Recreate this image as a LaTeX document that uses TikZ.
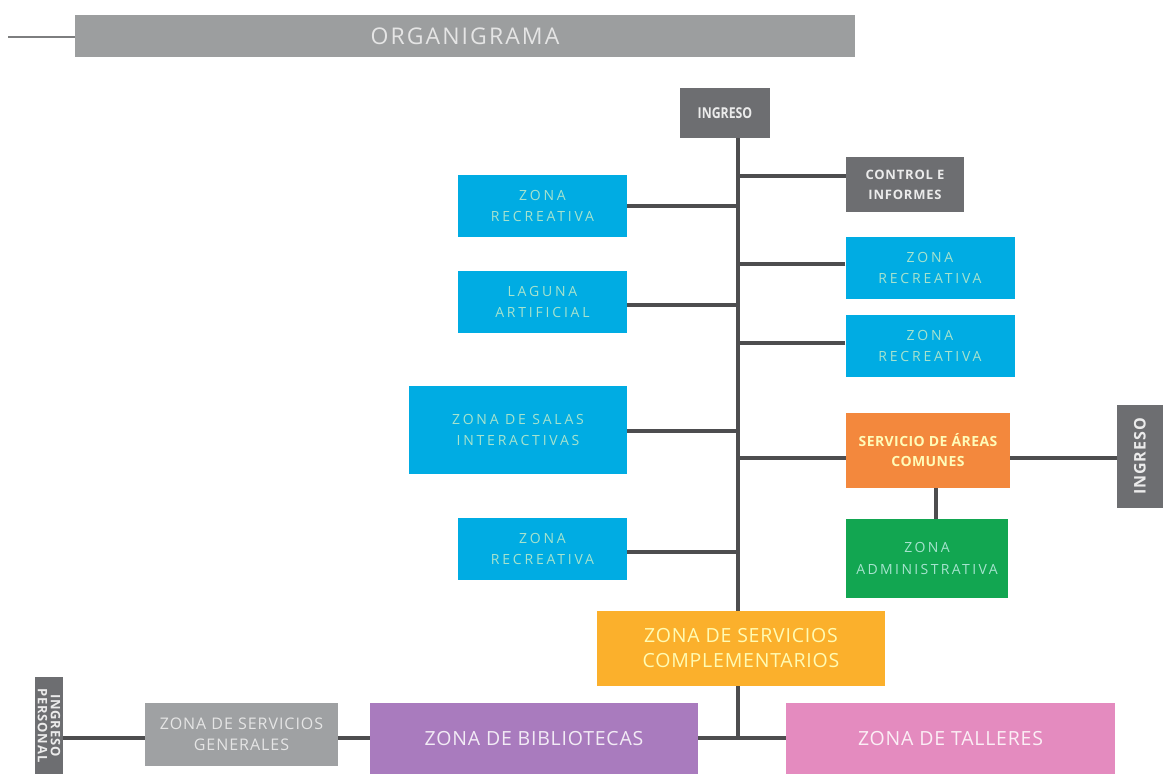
\documentclass[tikz,border=0pt]{standalone}
\usepackage{fontspec}
\setmainfont{Open Sans}
\newfontfamily\condf[FakeStretch=0.82]{Open Sans}
\newcommand\myls[1]{\addfontfeatures{LetterSpace=#1}}
\begin{document}
\begin{tikzpicture}[x=1pt,y=-1pt,
  box/.style={rectangle, inner sep=2pt, align=center},
  bluebox/.style={box, fill=cblue, text=cbluetext, minimum width=169, minimum height=62,
    font=\fontsize{14}{21}\selectfont\myls{20}},
  darkbox/.style={box, fill=cdark, text=white!92!black},
  link/.style={draw=cline, line width=4pt}
]
\definecolor{cblue}{HTML}{00ACE3}
\definecolor{cbluetext}{HTML}{A6E3CE}
\definecolor{cdark}{HTML}{6D6E71}
\definecolor{ctitle}{HTML}{9C9E9F}
\definecolor{corange}{HTML}{F3883D}
\definecolor{cgreen}{HTML}{12A651}
\definecolor{cyellow}{HTML}{FBB02C}
\definecolor{cpurple}{HTML}{A97BBE}
\definecolor{cpink}{HTML}{E48BBF}
\definecolor{cgray}{HTML}{9FA1A3}
\definecolor{cline}{HTML}{4D4D4F}
\useasboundingbox (0,0) rectangle (1163,774);
% main spine coordinate
\coordinate (sp) at (738,738);
% title
\node[rectangle, fill=ctitle, minimum width=780, minimum height=42, inner sep=0pt,
  text=white!90!black, font=\fontsize{23}{24}\selectfont\myls{9}] (title) at (465,36) {ORGANIGRAMA};
\coordinate (tl) at (8,37);
\draw[draw=ctitle!80!black, line width=2.5pt] (tl) -- (tl -| title.west);
% nodes
\node[darkbox, minimum width=90, minimum height=50, font=\condf\bfseries\fontsize{15}{16}\selectfont] (ing) at (725,113) {INGRESO};
\node[darkbox, minimum width=118, minimum height=55, font=\bfseries\fontsize{13}{20}\selectfont\myls{6}] (ctrl) at (905,184.5) {CONTROL E\\INFORMES};
\node[bluebox] (zr1) at (542.5,206) {ZONA\\RECREATIVA};
\node[bluebox] (zr2) at (930,267.5) {ZONA\\RECREATIVA};
\node[bluebox] (lag) at (542.5,302) {LAGUNA\\ARTIFICIAL};
\node[bluebox] (zr3) at (930,346) {ZONA\\RECREATIVA};
\node[bluebox, minimum width=218, minimum height=88] (sal) at (518,430) {ZONA DE SALAS\\INTERACTIVAS};
\node[box, fill=corange, text=white!72!yellow, font=\bfseries\fontsize{14}{20}\selectfont\myls{3}, minimum width=164, minimum height=75] (sac) at (928,450.5) {SERVICIO DE ÁREAS\\COMUNES};
\node[darkbox, rotate=90, minimum width=103, minimum height=46, font=\bfseries\fontsize{16}{18}\selectfont\myls{6}] (ing2) at (1140,456.5) {INGRESO};
\node[box, fill=cgreen, text=cbluetext, font=\fontsize{14}{22}\selectfont\myls{17}, minimum width=162, minimum height=79] (adm) at (927,558.5) {ZONA\\ADMINISTRATIVA};
\node[bluebox] (zr4) at (542.5,549) {ZONA\\RECREATIVA};
\node[box, fill=cyellow, text=white!70!yellow, font=\fontsize{19.5}{25}\selectfont\myls{4}, minimum width=288, minimum height=75] (comp) at (741,648.5) {ZONA DE SERVICIOS\\COMPLEMENTARIOS};
\node[box, fill=cpurple, text=white!85!cpurple, font=\fontsize{19.5}{22}\selectfont\myls{4}, minimum width=328, minimum height=72] (bib) at (534,739) {ZONA DE BIBLIOTECAS};
\node[box, fill=cpink, text=white!85!cpink, font=\fontsize{19.5}{22}\selectfont\myls{4}, minimum width=329, minimum height=72] (tal) at (950.5,739) {ZONA DE TALLERES};
\node[box, fill=cgray, text=white!90!black, font=\fontsize{16}{21}\selectfont\myls{6}, minimum width=193, minimum height=63] (gen) at (241.5,734.5) {ZONA DE SERVICIOS\\GENERALES};
\node[darkbox, rotate=-90, minimum width=97, minimum height=28, inner sep=0pt, font=\bfseries\fontsize{13}{13}\selectfont\myls{6}] (per) at (49,725.5) {INGRESO\\PERSONAL};
% connectors
\begin{scope}[link]
\draw (ing.south -| sp) -- (comp.north -| sp);
\draw (comp.south -| sp) -- (sp);
\draw (ctrl.west |- 0,176) -- (sp |- 0,176);
\draw (zr1.east) -- (zr1.east -| sp);
\draw (zr2.west |- 0,264) -- (sp |- 0,264);
\draw (lag.east |- 0,305) -- (sp |- 0,305);
\draw (zr3.west |- 0,343) -- (sp |- 0,343);
\draw (sal.east |- 0,431) -- (sp |- 0,431);
\draw (sac.west |- 0,458) -- (sp |- 0,458);
\draw (sac.east |- 0,458) -- (ing2.north |- 0,458);
\draw (sac.south -| 936,0) -- (adm.north -| 936,0);
\draw (zr4.east |- 0,552) -- (sp |- 0,552);
\draw (bib.east |- sp) -- (tal.west |- sp);
\draw (gen.east |- sp) -- (bib.west |- sp);
\draw (per.north |- sp) -- (gen.west |- sp);
\end{scope}
\end{tikzpicture}
\end{document}
